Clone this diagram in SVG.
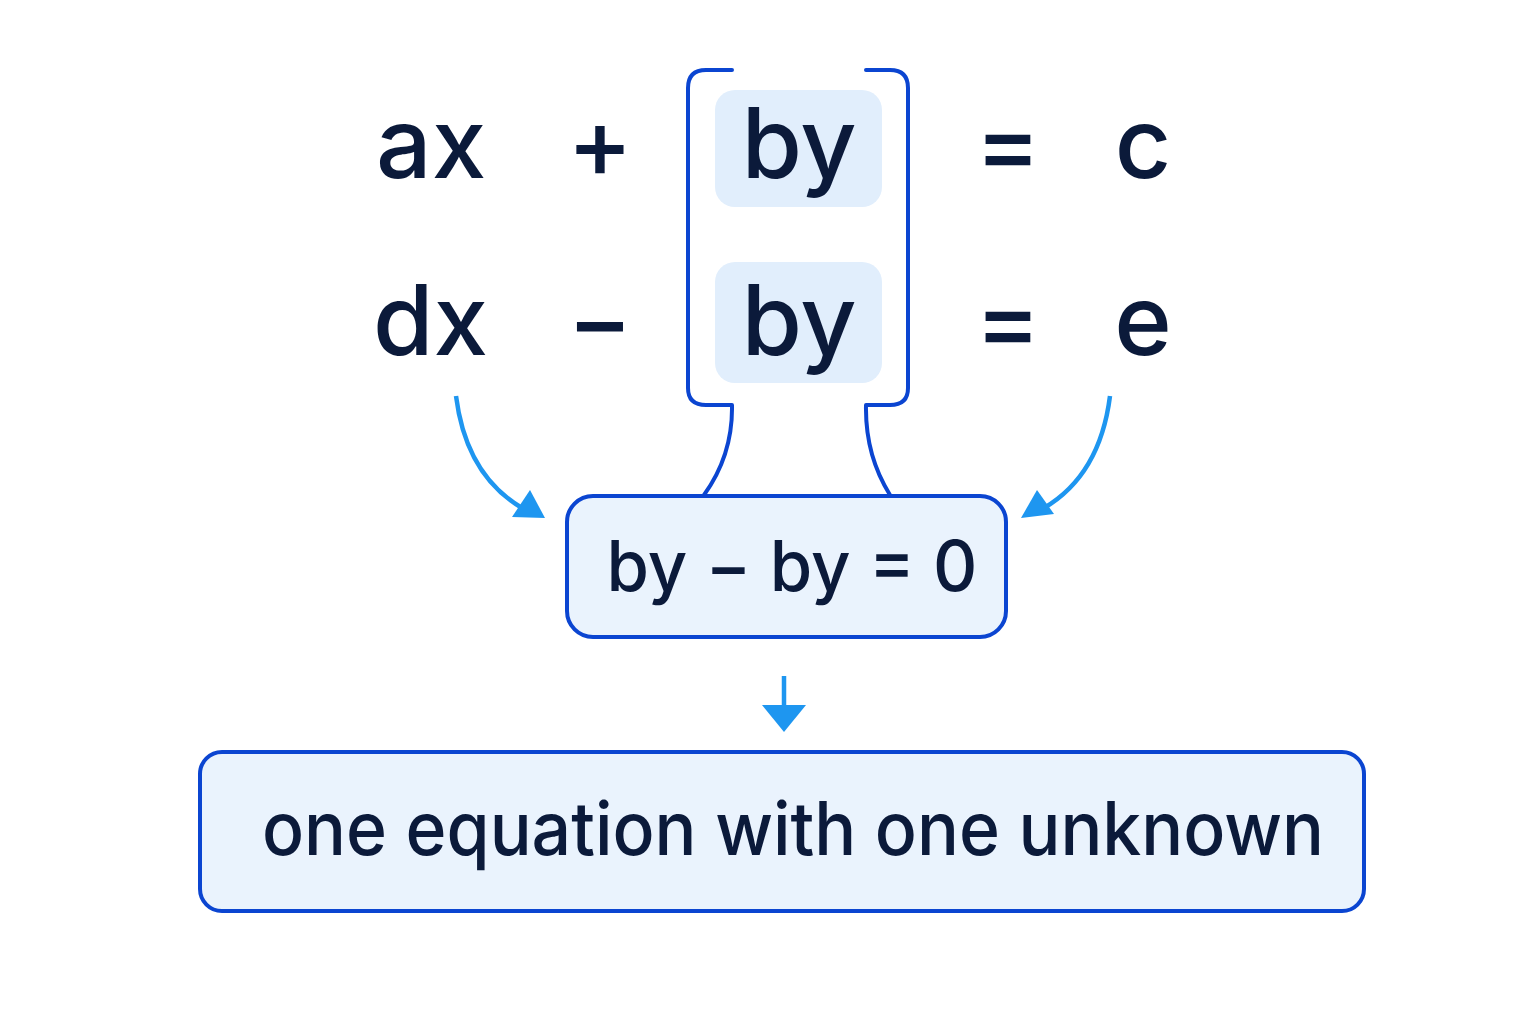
<svg xmlns="http://www.w3.org/2000/svg" width="1536" height="1024" viewBox="0 0 1536 1024">
<defs>
<style>
.t{font-family:Inter,"Noto Sans","DejaVu Sans",sans-serif;fill:#0B1A3A;font-weight:500}
.big{font-size:98px}
.frame{fill:none;stroke:#0B45D1;stroke-width:4;stroke-linecap:round;stroke-linejoin:round}
.box{fill:#EAF3FD;stroke:#0B45D1;stroke-width:4}
.hl{fill:#E1EEFC}
.arr{fill:none;stroke:#1E96F0;stroke-width:4.5}
</style>
</defs>
<rect width="1536" height="1024" fill="#FFFFFF"/>
<g id="equations">
<text class="t big" x="376" y="178">ax</text>
<text class="t big" x="600" y="178" text-anchor="middle">+</text>
<text class="t big" x="1008" y="178" text-anchor="middle">=</text>
<text class="t big" x="1143" y="178" text-anchor="middle">c</text>
<text class="t big" x="373" y="355">dx</text>
<text class="t big" x="600" y="355" text-anchor="middle">−</text>
<text class="t big" x="1008" y="355" text-anchor="middle">=</text>
<text class="t big" x="1143" y="355" text-anchor="middle">e</text>
</g>
<g id="by-top">
<rect class="hl" x="715" y="90" width="167" height="117" rx="20"/>
<text class="t big" x="799" y="178" text-anchor="middle">by</text>
</g>
<g id="by-bottom">
<rect class="hl" x="715" y="262" width="167" height="121" rx="20"/>
<text class="t big" x="799" y="355" text-anchor="middle">by</text>
</g>
<g id="bracket">
<path class="frame" d="M732,70 H706 Q688,70 688,88 V388 Q688,405 706,405 H732 Q733,455 704,495"/>
<path class="frame" d="M866,70 H890 Q908,70 908,88 V388 Q908,405 890,405 H866 Q865,455 890,495"/>
</g>
<g id="result">
<rect class="box" x="567" y="496" width="439" height="141" rx="26"/>
<text class="t" x="792" y="591" font-size="70" text-anchor="middle" textLength="371" lengthAdjust="spacingAndGlyphs">by − by = 0</text>
</g>
<g id="final">
<rect class="box" x="200" y="752" width="1164" height="159" rx="22"/>
<text class="t" x="793" y="855" font-size="74" text-anchor="middle" textLength="1062" lengthAdjust="spacingAndGlyphs">one equation with one unknown</text>
</g>
<g id="connectors">
<path class="arr" d="M456,396 Q466,475 522,508"/>
<polygon points="545,518 512,517 530,490" fill="#1E96F0"/>
<path class="arr" d="M1110,396 Q1100,475 1044,508"/>
<polygon points="1021,518 1054,514 1037,490" fill="#1E96F0"/>
<line x1="784" y1="676" x2="784" y2="707" stroke="#1E96F0" stroke-width="4.5"/>
<polygon points="762,705 806,705 784,732" fill="#1E96F0"/>
</g>
</svg>
